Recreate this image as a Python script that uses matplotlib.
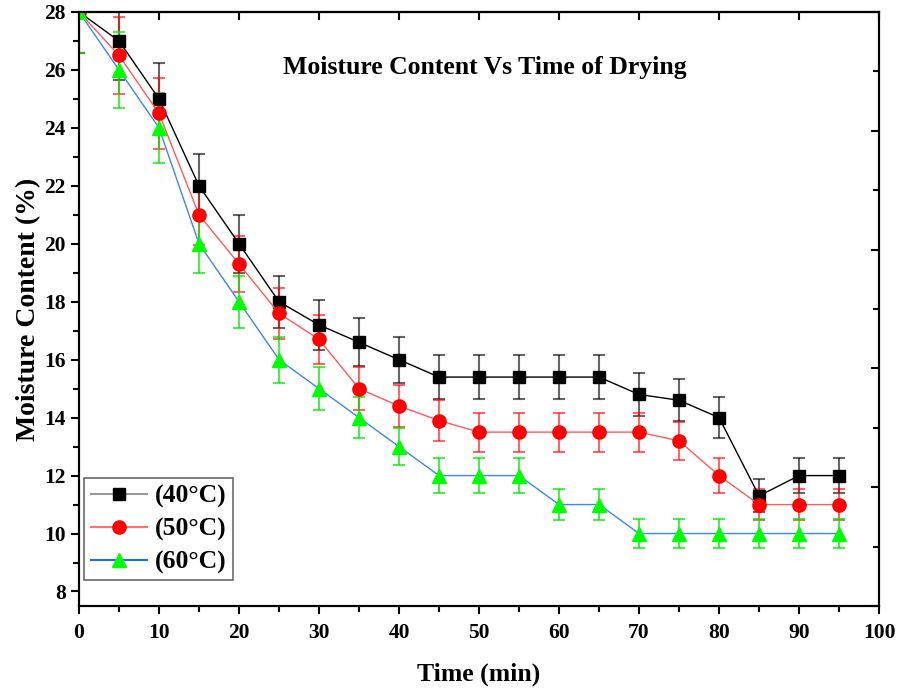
import matplotlib
matplotlib.use("Agg")
import matplotlib.pyplot as plt
from matplotlib.ticker import MultipleLocator
from matplotlib.lines import Line2D
import numpy as np

plt.rcParams['font.family'] = ['Liberation Serif', 'DejaVu Serif']
plt.rcParams['font.weight'] = 'bold'

time_min = [0, 5, 10, 15, 20, 25, 30, 35, 40, 45, 50, 55, 60, 65, 70, 75, 80, 85, 90, 95]
mc_40 = [28, 27, 25, 22, 20, 18, 17.2, 16.6, 16, 15.4, 15.4, 15.4, 15.4, 15.4, 14.8, 14.6, 14, 11.3, 12, 12]
mc_50 = [28, 26.5, 24.5, 21, 19.3, 17.6, 16.7, 15, 14.4, 13.9, 13.5, 13.5, 13.5, 13.5, 13.5, 13.2, 12, 11, 11, 11]
mc_60 = [28, 26, 24, 20, 18, 16, 15, 14, 13, 12, 12, 12, 11, 11, 10, 10, 10, 10, 10, 10]
err_frac = 0.05  # error bars = 5% of value
labels = ['(40°C)', '(50°C)', '(60°C)']

fig = plt.figure(figsize=(8.97, 6.89), dpi=100)
ax = fig.add_axes([0.0881, 0.1205, 0.8919, 0.8621])

series = [
    (mc_40, 'black', '#999999', 'black', (0, 0, 0, 0.6), 's', 8.5),
    (mc_50, '#ff5a5a', '#ff7070', 'red', (1, 0, 0, 0.6), 'o', 9.5),
    (mc_60, '#3a87f0', '#1a70e8', '#00ff00', (0, 0.9, 0, 0.7), '^', 10),
]
handles = []
for (vals, lc, llc, mc, ec, mk, ms), lab in zip(series, labels):
    v = np.array(vals)
    ax.errorbar(time_min, v, yerr=v * err_frac, color=lc, lw=1.0,
                marker=mk, markersize=ms, markerfacecolor=mc, markeredgecolor=mc,
                ecolor=ec, elinewidth=1.5, capsize=4, capthick=1.5, label=lab)
    handles.append(Line2D([], [], color=llc, lw=1.5, marker=mk, markersize=ms,
                          markerfacecolor=mc, markeredgecolor=mc))

ax.set_xlim(0, 100)
ax.set_ylim(7.5, 28)
ax.xaxis.set_major_locator(MultipleLocator(10))
ax.xaxis.set_minor_locator(MultipleLocator(5))
ax.yaxis.set_major_locator(MultipleLocator(2))
ax.yaxis.set_minor_locator(MultipleLocator(1))
ax.tick_params(axis='both', which='major', direction='out', length=6, width=1.5,
               labelsize=15.5, top=False, right=False)
ax.tick_params(axis='both', which='minor', direction='out', length=4, width=1.5,
               top=False, right=False)
ax.tick_params(axis='x', pad=6)
for lab in ax.get_xticklabels() + ax.get_yticklabels():
    lab.set_fontweight('bold')
for s in ax.spines.values():
    s.set_linewidth(1.5)

# top axis: inward ticks
axt = ax.secondary_xaxis('top')
axt.xaxis.set_major_locator(MultipleLocator(10))
axt.tick_params(direction='in', length=6, width=1.5, labeltop=False)
axt.spines['top'].set_linewidth(1.5)

# right axis: inward ticks on its own scale
axr = ax.twinx()
axr.set_ylim(0, 5)
axr.yaxis.set_major_locator(MultipleLocator(1))
axr.yaxis.set_minor_locator(MultipleLocator(0.5))
axr.tick_params(axis='y', which='major', direction='in', length=6, width=1.5, labelright=False)
axr.tick_params(axis='y', which='minor', direction='in', length=4, width=1.5)
for s in axr.spines.values():
    s.set_linewidth(1.5)

ax.set_xlabel('Time (min)', fontsize=18.5, fontweight='bold', labelpad=14)
ax.set_ylabel('Moisture Content (%)', fontsize=20, fontweight='bold', labelpad=2)
ax.text(0.507, 0.906, 'Moisture Content Vs Time of Drying', transform=ax.transAxes,
        ha='center', va='center', fontsize=18.5, fontweight='bold')

leg = ax.legend(handles=handles, labels=labels, loc='lower left', bbox_to_anchor=(-0.003, 0.03),
                fontsize=18.5, frameon=True, fancybox=False, edgecolor='#444444',
                handlelength=2.2, borderpad=0.25, labelspacing=0.37, handletextpad=0.3,
                borderaxespad=0.3)
leg.get_frame().set_linewidth(1.2)
for t in leg.get_texts():
    t.set_fontweight('bold')
axr.set_zorder(-1)
ax.set_zorder(1)
ax.patch.set_visible(False)

fig.savefig('out.png', dpi=100)
